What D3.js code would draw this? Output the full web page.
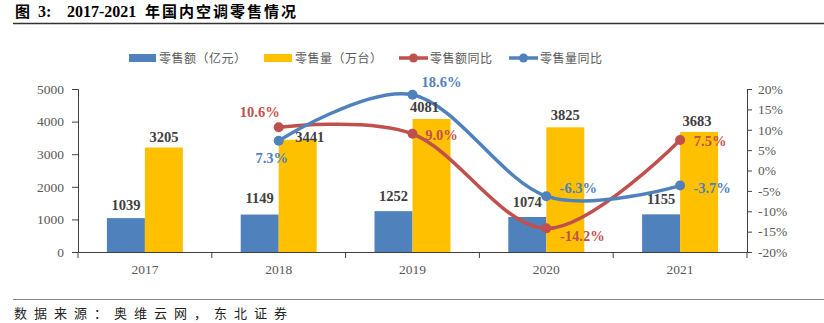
<!DOCTYPE html>
<html><head><meta charset="utf-8">
<script src="https://cdn.jsdelivr.net/npm/d3@7"></script>
<style>
body{margin:0;background:#fff;}
svg{display:block;}
</style></head>
<body><svg id="c" width="824" height="323"></svg>
<script>
const categories = ["2017","2018","2019","2020","2021"];
const salesAmount = [1039,1149,1252,1074,1155];        // 零售额（亿元）
const salesVolume = [3205,3441,4081,3825,3683];        // 零售量（万台）
const amountYoY = [null,10.6,9.0,-14.2,7.5];           // 零售额同比 %
const volumeYoY = [null,7.3,18.6,-6.3,-3.7];           // 零售量同比 %
const leftTicks = [0,1000,2000,3000,4000,5000];
const rightTicks = [-20,-15,-10,-5,0,5,10,15,20];
const seriesNames = ["零售额（亿元）","零售量（万台）","零售额同比","零售量同比"];

const BLUE="#4F81BD", YELLOW="#FFC000", RED="#C0504D";
const serif = "'Liberation Serif','Times New Roman',serif";
const cjk = "'Noto Sans CJK SC','Liberation Serif',sans-serif";

const svg = d3.select("#c");
const L=78, R=747, T=89, B=252;

// title
const tt = svg.append("text").attr("x",15).attr("y",17)
  .style("font-weight","bold").style("font-size","15px").attr("fill","#000");
tt.append("tspan").style("font-family",cjk).text("图");
tt.append("tspan").attr("x",38).style("font-family",serif).style("font-size","16px").text("3:");
tt.append("tspan").attr("x",67).style("font-family",serif).style("font-size","16px").text("2017-2021");
tt.append("tspan").attr("x",145).style("font-family",cjk).style("letter-spacing","2px").text("年国内空调零售情况");
svg.append("line").attr("x1",13).attr("x2",824).attr("y1",23.5).attr("y2",23.5).attr("stroke","#333").attr("stroke-width",1.3);
svg.append("line").attr("x1",13).attr("x2",824).attr("y1",299.5).attr("y2",299.5).attr("stroke","#888").attr("stroke-width",1);
svg.append("text").attr("x",14).attr("y",318)
  .style("font-family",cjk).style("font-size","13px").style("letter-spacing","7px").attr("fill","#222").text("数据来源：奥维云网，东北证券");

const x = d3.scaleBand().domain(categories).range([L,R]);
const yL = d3.scaleLinear().domain([0,5000]).range([B,T]);
const yR = d3.scaleLinear().domain([-20,20]).range([B,T]);
const bw = 38;

// bars
const g = svg.append("g");
g.selectAll(".ba").data(categories).join("rect")
  .attr("x",d=>x(d)+x.bandwidth()/2-bw).attr("width",bw)
  .attr("y",(d,i)=>yL(salesAmount[i])).attr("height",(d,i)=>B-yL(salesAmount[i])).attr("fill",BLUE);
g.selectAll(".bv").data(categories).join("rect")
  .attr("x",d=>x(d)+x.bandwidth()/2).attr("width",bw)
  .attr("y",(d,i)=>yL(salesVolume[i])).attr("height",(d,i)=>B-yL(salesVolume[i])).attr("fill",YELLOW);

// axes
const axL = d3.axisLeft(yL).tickValues(leftTicks).tickSize(6).tickPadding(8).tickFormat(d3.format("d"));
const gL = svg.append("g").attr("transform",`translate(${L},0)`).call(axL);
const axR = d3.axisRight(yR).tickValues(rightTicks).tickSize(5).tickPadding(6).tickFormat(d=>d+"%");
const gR = svg.append("g").attr("transform",`translate(${R},0)`).call(axR);
const axB = d3.axisBottom(x).tickSize(0).tickPadding(12);
const gB = svg.append("g").attr("transform",`translate(0,${B})`).call(axB);
[gL,gR,gB].forEach(a=>{
  a.attr("font-family",null);
  a.select(".domain").attr("stroke","#404040");
  a.selectAll(".tick line").attr("stroke","#404040");
  a.selectAll("text").style("font-family",serif).style("font-size","13.5px").attr("fill","#595959");
});
// category separator ticks on x-axis
const bounds = categories.map(c=>x(c)).concat([R]);
svg.append("g").selectAll("line").data(bounds).join("line")
  .attr("x1",d=>d).attr("x2",d=>d).attr("y1",B).attr("y2",B+6).attr("stroke","#404040");

// lines
const pts = arr => categories.map((c,i)=>({x:x(c)+x.bandwidth()/2, y: arr[i]==null?null:yR(arr[i]), v:arr[i]})).filter(p=>p.v!=null);
const line = d3.line().x(p=>p.x).y(p=>p.y).curve(d3.curveCatmullRom.alpha(0));
[[amountYoY,RED],[volumeYoY,BLUE]].forEach(([arr,col])=>{
  const p = pts(arr);
  svg.append("path").attr("d",line(p)).attr("fill","none").attr("stroke",col).attr("stroke-width",3.5);
  svg.selectAll(null).data(p).join("circle").attr("cx",d=>d.x).attr("cy",d=>d.y).attr("r",5).attr("fill",col);
});

// bar labels
const amtOff = [[-19,-8],[-19,-12],[-19,-10],[-19,-10],[-19,-10]];
const volOff = [[19,-6],[31,2],[12,-7],[19,-7],[17,-6]];
categories.forEach((c,i)=>{
  const cx = x(c)+x.bandwidth()/2;
  svg.append("text").attr("x",cx+amtOff[i][0]).attr("y",yL(salesAmount[i])+amtOff[i][1])
    .attr("text-anchor","middle").style("font-family",serif).style("font-weight","bold").style("font-size","14.5px").attr("fill","#404040").text(salesAmount[i]);
  svg.append("text").attr("x",cx+volOff[i][0]).attr("y",yL(salesVolume[i])+volOff[i][1])
    .attr("text-anchor","middle").style("font-family",serif).style("font-weight","bold").style("font-size","14.5px").attr("fill","#404040").text(salesVolume[i]);
});
// percentage labels (offsets from point)
const amtPOff = [null,[-19,-10],[29,6],[36,13],[30,6]];
const volPOff = [null,[-7,22],[29,-8],[32,-3],[32,7]];
categories.forEach((c,i)=>{
  const cx = x(c)+x.bandwidth()/2;
  if(amountYoY[i]!=null) svg.append("text").attr("x",cx+amtPOff[i][0]).attr("y",yR(amountYoY[i])+amtPOff[i][1])
    .attr("text-anchor","middle").style("font-family",serif).style("font-weight","bold").style("font-size","14.5px").attr("fill",RED).text(amountYoY[i].toFixed(1)+"%");
  if(volumeYoY[i]!=null) svg.append("text").attr("x",cx+volPOff[i][0]).attr("y",yR(volumeYoY[i])+volPOff[i][1])
    .attr("text-anchor","middle").style("font-family",serif).style("font-weight","bold").style("font-size","14.5px").attr("fill",BLUE).text(volumeYoY[i].toFixed(1)+"%");
});

// legend
const lg = svg.append("g").style("font-family",cjk).style("font-size","12px").style("letter-spacing","0.5px");
const ly = 58;
lg.append("rect").attr("x",129).attr("y",ly-4).attr("width",27).attr("height",8).attr("fill",BLUE);
lg.append("text").attr("x",159).attr("y",ly+4.5).attr("fill","#595959").text(seriesNames[0]);
lg.append("rect").attr("x",264).attr("y",ly-4).attr("width",28).attr("height",8).attr("fill",YELLOW);
lg.append("text").attr("x",295).attr("y",ly+4.5).attr("fill","#595959").text(seriesNames[1]);
[[399,RED,seriesNames[2]],[509,BLUE,seriesNames[3]]].forEach(([lx,col,t])=>{
  lg.append("line").attr("x1",lx).attr("x2",lx+29).attr("y1",ly).attr("y2",ly).attr("stroke",col).attr("stroke-width",3.5);
  lg.append("circle").attr("cx",lx+14.5).attr("cy",ly).attr("r",4.5).attr("fill",col);
  lg.append("text").attr("x",lx+31).attr("y",ly+4.5).attr("fill","#595959").text(t);
});
</script></body></html>
